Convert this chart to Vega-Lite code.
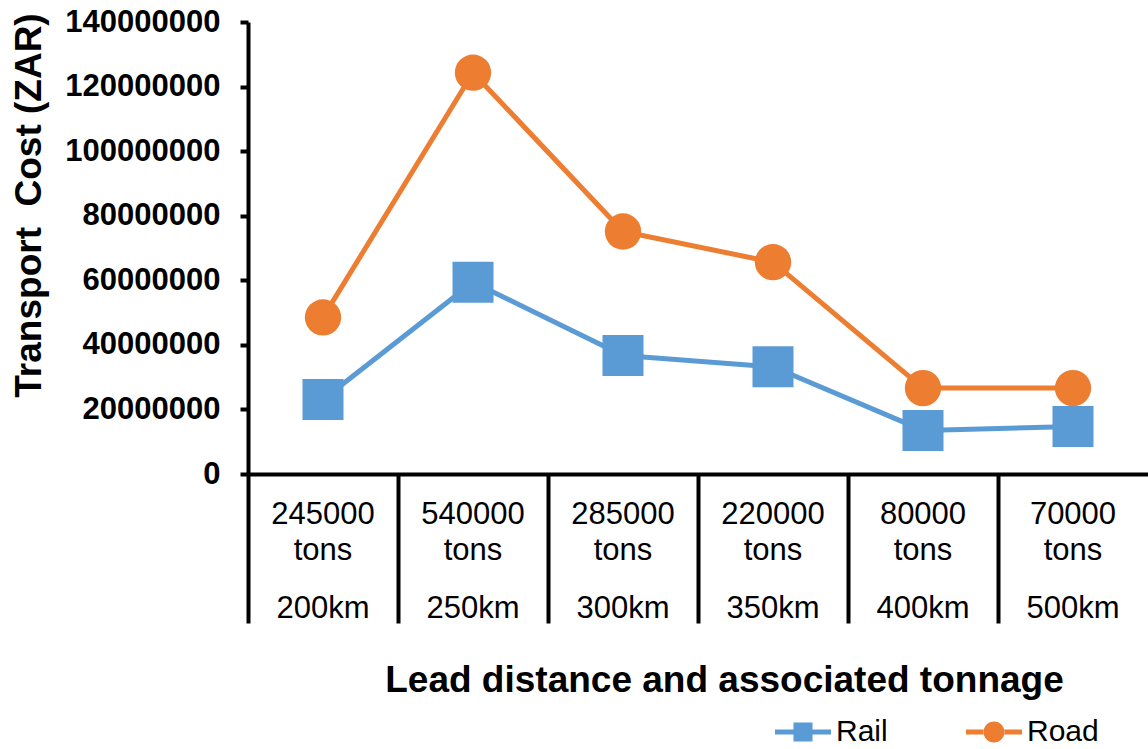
{
  "$schema": "https://vega.github.io/schema/vega-lite/v6.json",
  "width": 900,
  "height": 452,
  "autosize": {"type": "none"},
  "padding": {"left": 248, "top": 22, "right": 0, "bottom": 275},
  "background": "white",
  "config": {"view": {"stroke": null}, "font": "Liberation Sans"},
  "data": {
    "values": [
      {"category": "245000 tons|200km", "series": "Rail", "cost": 23100000},
      {"category": "540000 tons|250km", "series": "Rail", "cost": 59400000},
      {"category": "285000 tons|300km", "series": "Rail", "cost": 36700000},
      {"category": "220000 tons|350km", "series": "Rail", "cost": 33200000},
      {"category": "80000 tons|400km", "series": "Rail", "cost": 13500000},
      {"category": "70000 tons|500km", "series": "Rail", "cost": 14700000},
      {"category": "245000 tons|200km", "series": "Road", "cost": 48500000},
      {"category": "540000 tons|250km", "series": "Road", "cost": 124300000},
      {"category": "285000 tons|300km", "series": "Road", "cost": 75100000},
      {"category": "220000 tons|350km", "series": "Road", "cost": 65600000},
      {"category": "80000 tons|400km", "series": "Road", "cost": 26600000},
      {"category": "70000 tons|500km", "series": "Road", "cost": 26600000}
    ]
  },
  "encoding": {
    "y": {
      "field": "cost",
      "type": "quantitative",
      "scale": {"domain": [0, 140000000], "nice": false, "zero": true},
      "axis": {
        "values": [0, 20000000, 40000000, 60000000, 80000000, 100000000, 120000000, 140000000],
        "format": "d",
        "grid": false,
        "domainColor": "black",
        "domainWidth": 4,
        "tickColor": "black",
        "tickWidth": 4,
        "tickSize": 8,
        "labelFont": "Liberation Sans",
        "labelFontWeight": "bold",
        "labelFontSize": 31,
        "labelColor": "black",
        "labelPadding": 20,
        "labelOverlap": false,
        "title": "Transport\u00a0 Cost (ZAR)",
        "titleFont": "Liberation Sans",
        "titleFontSize": 37,
        "titleFontWeight": "bold",
        "titleColor": "black",
        "titleAngle": -90,
        "titleBaseline": "alphabetic",
        "titleAlign": "center",
        "titleX": -208,
        "titleY": 183
      }
    },
    "color": {
      "field": "series",
      "type": "nominal",
      "scale": {"domain": ["Rail", "Road"], "range": ["#5B9BD5", "#ED7D31"]},
      "legend": {
        "title": null,
        "orient": "none",
        "legendX": 527,
        "legendY": 682,
        "direction": "horizontal",
        "padding": 0,
        "symbolSize": 3136,
        "labelFont": "Liberation Sans",
        "labelFontSize": 30,
        "labelColor": "black",
        "labelOffset": 5,
        "columnPadding": 78,
        "encode": {
          "symbols": {
            "update": {
              "shape": {"signal": "datum.value === 'Rail' ? 'M-1,-0.09H-0.34V0.09H-1Z M-0.34,-0.34H0.34V0.34H-0.34Z M0.34,-0.09H1V0.09H0.34Z' : 'M-1,-0.09H-0.36V0.09H-1Z M0.36,-0.09H1V0.09H0.36Z M-0.375,0A0.375,0.375 0 1,0 0.375,0A0.375,0.375 0 1,0 -0.375,0Z'"},
              "fill": {"signal": "datum.value === 'Rail' ? '#5B9BD5' : '#ED7D31'"},
              "stroke": {"value": "transparent"},
              "strokeWidth": {"value": 0},
              "size": {"value": 3136},
              "opacity": {"value": 1},
              "fillOpacity": {"value": 1}
            }
          }
        }
      }
    }
  },
  "layer": [
    {
      "mark": {"type": "line", "strokeWidth": 5, "strokeJoin": "round", "strokeCap": "round"},
      "encoding": {
        "x": {
          "field": "category",
          "type": "nominal",
          "sort": null,
          "scale": {"type": "band", "paddingInner": 0, "paddingOuter": 0},
          "axis": {
            "orient": "bottom",
            "title": null,
            "bandPosition": 0,
            "tickSize": 149,
            "tickWidth": 4,
            "tickColor": "black",
            "domainWidth": 4,
            "domainColor": "black",
            "labelExpr": "datum.value ? split(split(datum.value, '|')[0], ' ') : ''",
            "labelFont": "Liberation Sans",
            "labelFontSize": 31,
            "labelLineHeight": 36,
            "labelBaseline": "alphabetic",
            "labelPadding": -100,
            "labelAngle": 0,
            "labelColor": "black",
            "labelOverlap": false
          }
        }
      }
    },
    {
      "transform": [{"filter": "datum.series === 'Rail'"}],
      "mark": {"type": "point", "shape": "square", "size": 1681, "filled": true, "opacity": 1},
      "encoding": {
        "x": {
          "field": "category",
          "type": "nominal",
          "sort": null,
          "axis": {
            "orient": "bottom",
            "domain": false,
            "ticks": false,
            "labelExpr": "split(datum.value, '|')[1]",
            "labelFont": "Liberation Sans",
            "labelFontSize": 31,
            "labelBaseline": "alphabetic",
            "labelPadding": 143,
            "labelAngle": 0,
            "labelColor": "black",
            "labelOverlap": false,
            "title": "Lead distance and associated tonnage",
            "titleFont": "Liberation Sans",
            "titleFontSize": 37,
            "titleFontWeight": "bold",
            "titleColor": "black",
            "titleBaseline": "alphabetic",
            "titleAlign": "center",
            "titleX": 476,
            "titleY": 217
          }
        }
      }
    },
    {
      "transform": [{"filter": "datum.series === 'Road'"}],
      "mark": {"type": "point", "shape": "circle", "size": 1320, "filled": true, "opacity": 1},
      "encoding": {
        "x": {
          "field": "category",
          "type": "nominal",
          "sort": null,
          "axis": null
        }
      }
    }
  ],
  "resolve": {"axis": {"x": "independent"}}
}
